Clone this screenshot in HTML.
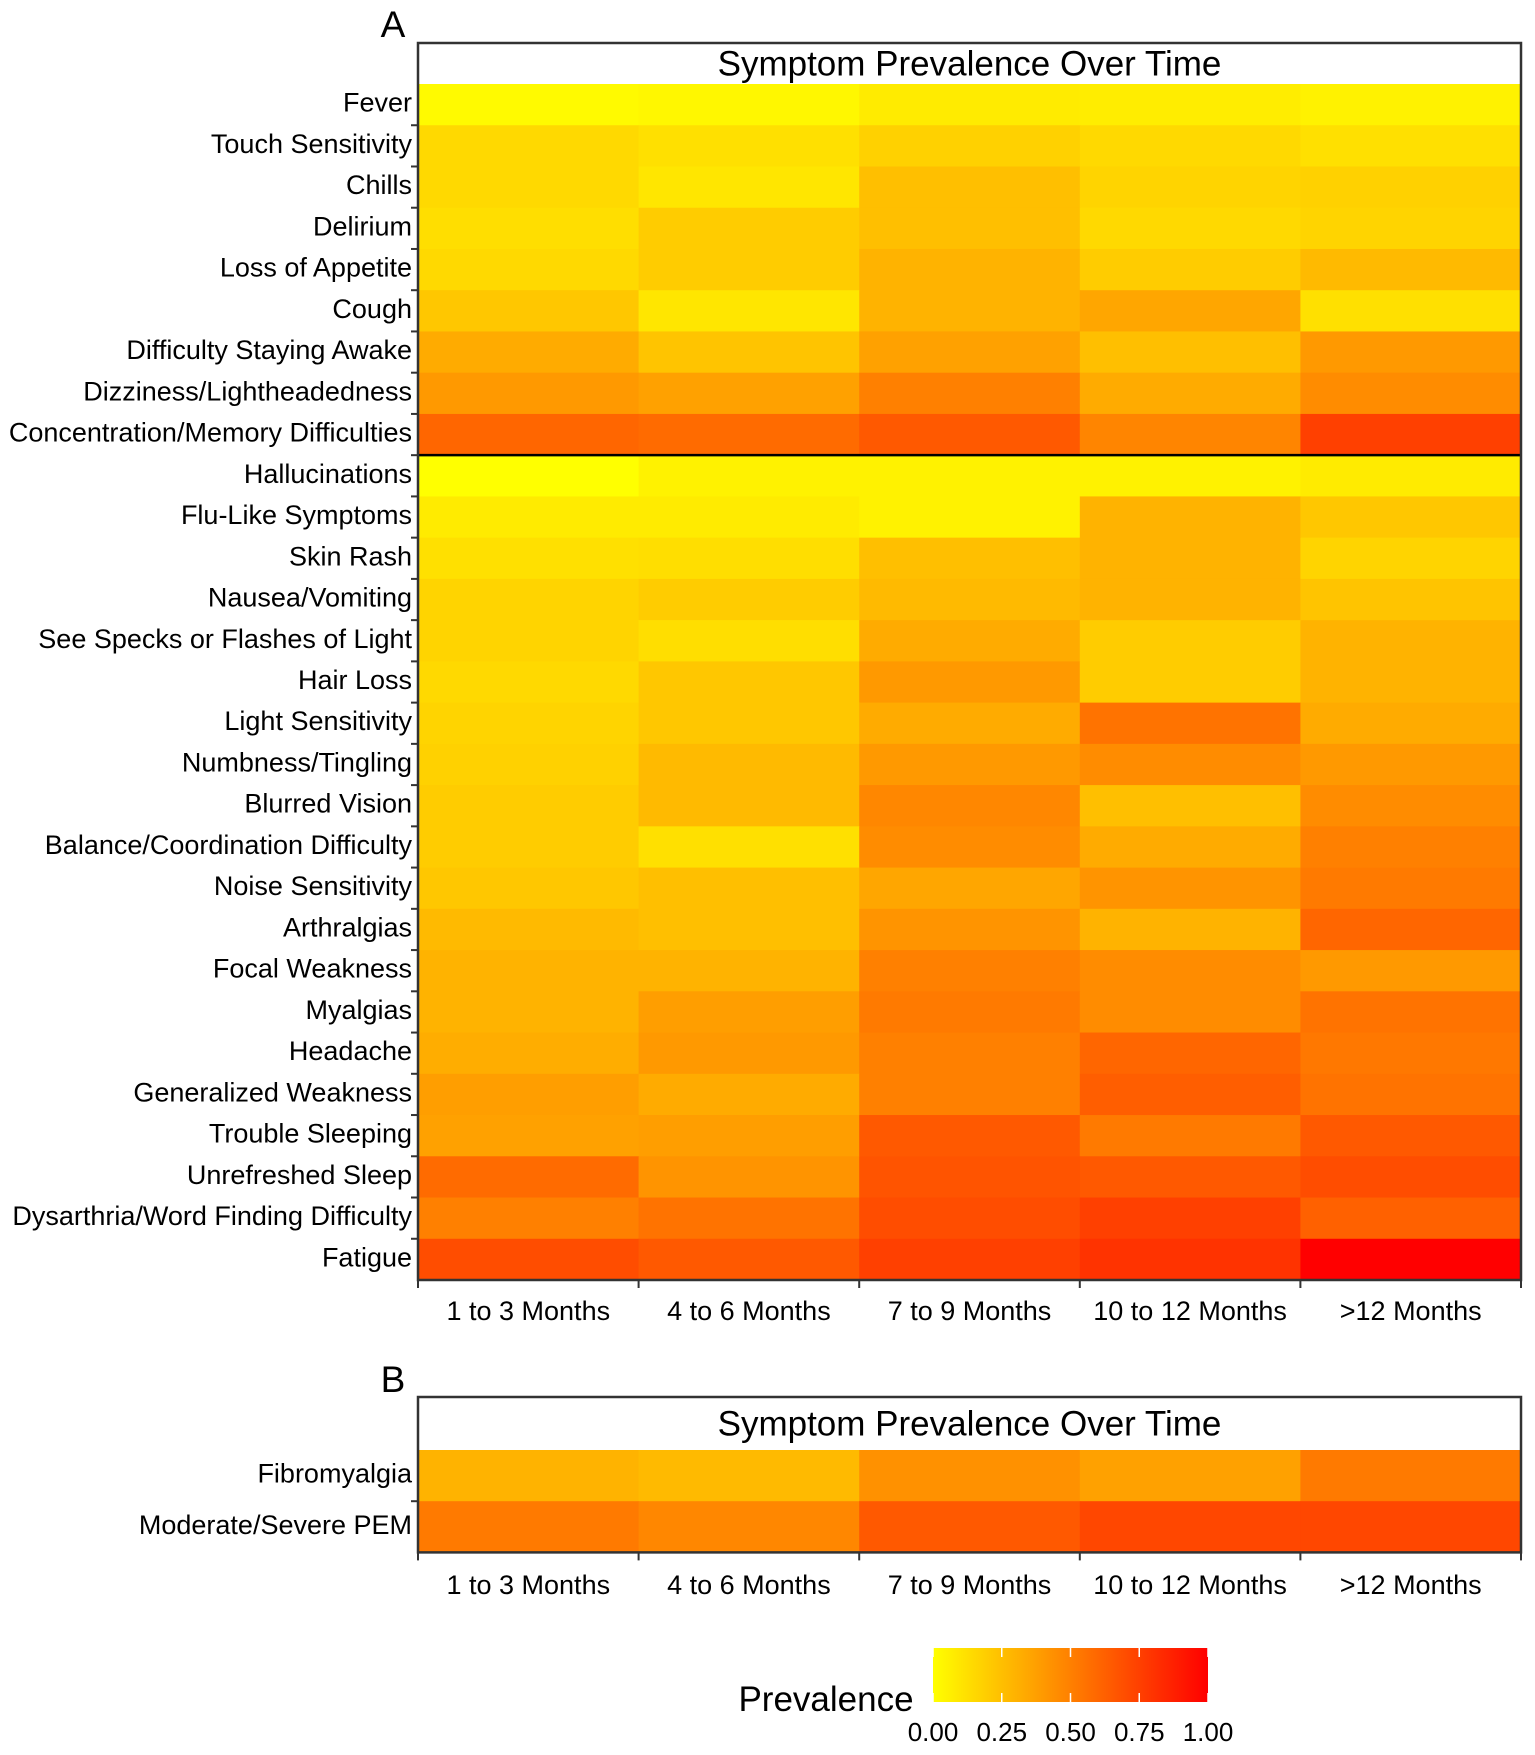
<!DOCTYPE html>
<html><head><meta charset="utf-8"><style>
html,body{margin:0;padding:0;background:#fff;}
svg{display:block;font-family:"Liberation Sans",Arial,sans-serif;}
</style></head><body>
<svg id="chart" width="1535" height="1755" viewBox="0 0 1535 1755"></svg>
<script>
const periods=["1 to 3 Months","4 to 6 Months","7 to 9 Months","10 to 12 Months",">12 Months"];
const symptomsA=["Fever","Touch Sensitivity","Chills","Delirium","Loss of Appetite","Cough","Difficulty Staying Awake","Dizziness/Lightheadedness","Concentration/Memory Difficulties","Hallucinations","Flu-Like Symptoms","Skin Rash","Nausea/Vomiting","See Specks or Flashes of Light","Hair Loss","Light Sensitivity","Numbness/Tingling","Blurred Vision","Balance/Coordination Difficulty","Noise Sensitivity","Arthralgias","Focal Weakness","Myalgias","Headache","Generalized Weakness","Trouble Sleeping","Unrefreshed Sleep","Dysarthria/Word Finding Difficulty","Fatigue"];
const valuesA=[
[0.02,0.03,0.08,0.07,0.05],
[0.15,0.12,0.18,0.15,0.12],
[0.15,0.10,0.25,0.17,0.18],
[0.13,0.20,0.25,0.15,0.17],
[0.15,0.20,0.30,0.20,0.27],
[0.22,0.10,0.30,0.35,0.12],
[0.33,0.23,0.37,0.25,0.40],
[0.40,0.37,0.50,0.33,0.45],
[0.60,0.58,0.65,0.48,0.75],
[0.00,0.05,0.05,0.05,0.08],
[0.08,0.08,0.05,0.30,0.22],
[0.12,0.13,0.25,0.30,0.17],
[0.17,0.20,0.27,0.30,0.23],
[0.17,0.13,0.33,0.20,0.30],
[0.15,0.22,0.40,0.20,0.30],
[0.17,0.22,0.33,0.55,0.33],
[0.18,0.27,0.40,0.45,0.40],
[0.20,0.27,0.47,0.25,0.45],
[0.20,0.12,0.45,0.33,0.50],
[0.22,0.25,0.35,0.42,0.52],
[0.27,0.25,0.42,0.30,0.60],
[0.30,0.30,0.50,0.45,0.40],
[0.30,0.38,0.52,0.45,0.55],
[0.32,0.40,0.50,0.60,0.53],
[0.38,0.33,0.50,0.63,0.55],
[0.37,0.38,0.65,0.52,0.65],
[0.58,0.42,0.67,0.65,0.70],
[0.50,0.55,0.70,0.75,0.62],
[0.70,0.65,0.75,0.80,1.00]];
const symptomsB=["Fibromyalgia","Moderate/Severe PEM"];
const valuesB=[[0.30,0.27,0.43,0.37,0.52],[0.52,0.47,0.65,0.72,0.72]];
const legendTicks=[0,0.25,0.5,0.75,1];
const legendLabels=["0.00","0.25","0.50","0.75","1.00"];

const NS="http://www.w3.org/2000/svg";
const svg=document.getElementById('chart');
function mk(tag,attrs,parent){const e=document.createElementNS(NS,tag);for(const k in attrs)e.setAttribute(k,attrs[k]);(parent||svg).appendChild(e);return e;}
function color(v){v=Math.max(0,Math.min(1,v));return `rgb(255,${Math.round(255*(1-v))},0)`;}
const L=418,R=1521,colW=(R-L)/periods.length;
function xPos(i){return L+i*colW;}

function panel(letter,letterY,top,headerBot,rowH,names,vals,sepAfter,labelY){
  const g=mk('g',{});
  
  
  const bottom=headerBot+rowH*names.length;
  names.forEach((n,r)=>{
    vals[r].forEach((v,c)=>{
      const rc=mk('rect',{x:xPos(c),y:headerBot+r*rowH,width:colW+0.6,height:rowH+0.6,fill:color(v)},g);
      
      
    });
    const t=mk('text',{x:L-6,y:headerBot+r*rowH+rowH/2+7,'text-anchor':'end','font-size':27,fill:'#000'},g);
    t.textContent=n;
    
    
    if(r>0) mk('line',{x1:L-7,x2:L,y1:headerBot+r*rowH,y2:headerBot+r*rowH,stroke:'#333','stroke-width':2},g);
  });
  if(sepAfter) mk('line',{x1:L,x2:R,y1:headerBot+sepAfter*rowH,y2:headerBot+sepAfter*rowH,stroke:'#000','stroke-width':2.5},g);
  mk('rect',{x:L,y:top,width:R-L,height:bottom-top,fill:'none',stroke:'#333','stroke-width':2.5},g);
  const ti=mk('text',{x:(L+R)/2,y:top+(headerBot-top)/2+12,'text-anchor':'middle','font-size':35},g);
  ti.textContent='Symptom Prevalence Over Time';
  
  
  const lt=mk('text',{x:393,y:letterY,'text-anchor':'middle','font-size':37},g);
  lt.textContent=letter;
  
  
  for(let i=0;i<=periods.length;i++) mk('line',{x1:xPos(i),x2:xPos(i),y1:bottom,y2:bottom+8,stroke:'#333','stroke-width':2},g);
  periods.forEach((p,i)=>{
    const t=mk('text',{x:xPos(i)+colW/2,y:labelY,'text-anchor':'middle','font-size':27},g);
    t.textContent=p;
    
    
  });
}
panel('A',37,43,84,(1280-84)/29,symptomsA,valuesA,9,1320);
panel('B',1392,1397,1450,51.2,symptomsB,valuesB,0,1594);

// legend
const lg=mk('g',{});


const defs=mk('defs',{},lg);
const grad=mk('linearGradient',{id:'gr',x1:'0',x2:'1',y1:'0',y2:'0'},defs);
[0,0.25,0.5,0.75,1].forEach(s=>mk('stop',{offset:s,'stop-color':color(s)},grad));
const LX=933,LW=275,LY=1648,LH=54;
mk('rect',{x:LX,y:LY,width:LW,height:LH,fill:'url(#gr)'},lg);
legendTicks.forEach((v,i)=>{
  const x=LX+v*LW;
  mk('line',{x1:x,x2:x,y1:LY,y2:LY+9,stroke:'#fff','stroke-width':1.5},lg);
  mk('line',{x1:x,x2:x,y1:LY+LH-9,y2:LY+LH,stroke:'#fff','stroke-width':1.5},lg);
  const t=mk('text',{x:x,y:1741,'text-anchor':'middle','font-size':26},lg);
  t.textContent=legendLabels[i];
  
  
});
const pt=mk('text',{x:826,y:1711,'text-anchor':'middle','font-size':35},lg);
pt.textContent='Prevalence';


</script>
</body></html>
